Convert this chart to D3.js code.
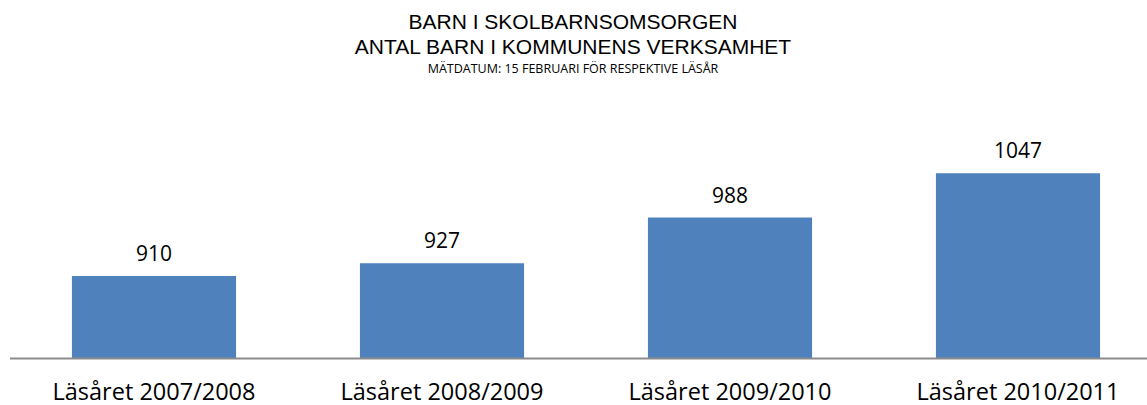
<!DOCTYPE html>
<html>
<head>
<meta charset="utf-8">
<script src="https://cdn.jsdelivr.net/npm/d3@7"></script>
<style>
  body { margin: 0; background: #fff; }
  text { font-family: "Open Sans", sans-serif; fill: #000; }
</style>
</head>
<body>
<script>
const categories = ["Läsåret 2007/2008", "Läsåret 2008/2009", "Läsåret 2009/2010", "Läsåret 2010/2011"];
const values = [910, 927, 988, 1047];
const titleLines = ["BARN I SKOLBARNSOMSORGEN", "ANTAL BARN I KOMMUNENS VERKSAMHET"];
const subtitle = "MÄTDATUM: 15 FEBRUARI FÖR RESPEKTIVE LÄSÅR";

const width = 1147, height = 405;

let svg = d3.select("body").append("svg")
  .attr("width", width)
  .attr("height", height);

const x = d3.scaleBand()
  .domain(categories)
  .range([10, 1162])
  .paddingInner(0.43)
  .paddingOuter(0.215);

const y = d3.scaleLinear()
  .domain([800, 1100])
  .range([358.5, 133.5]);

// titles
svg.selectAll("text.title")
  .data(titleLines)
  .enter()
  .append("text")
  .attr("class", "title")
  .attr("x", 573)
  .attr("y", (d, i) => 29 + i * 25)
  .attr("text-anchor", "middle")
  .style("font-family", "'Liberation Sans', Arial, sans-serif")
  .style("font-size", "21px")
  .text((d) => d);

svg.append("text")
  .attr("x", 573)
  .attr("y", 73)
  .attr("text-anchor", "middle")
  .style("font-size", "12.5px")
  .text(subtitle);

// bars
svg.append("g")
  .selectAll("rect")
  .data(values)
  .enter()
  .append("rect")
  .attr("x", (d, i) => x(categories[i]))
  .attr("y", (d) => y(d))
  .attr("width", x.bandwidth())
  .attr("height", (d) => y.range()[0] - y(d))
  .attr("fill", "#4f81bd");

// value labels
svg.append("g")
  .selectAll("text")
  .data(values)
  .enter()
  .append("text")
  .attr("x", (d, i) => x(categories[i]) + x.bandwidth() / 2)
  .attr("y", (d) => y(d) - 15)
  .attr("text-anchor", "middle")
  .style("font-size", "21px")
  .text((d) => d);

// x axis
const xAxis = svg.append("g")
  .attr("transform", `translate(0,${y.range()[0]})`)
  .call(d3.axisBottom(x).tickSize(0).tickPadding(0));
xAxis.select(".domain").remove();
xAxis.append("line")
  .attr("x1", 10)
  .attr("x2", width)
  .attr("stroke", "#8c8c8c")
  .attr("stroke-width", 2);
xAxis.selectAll(".tick text")
  .attr("dy", null)
  .attr("y", 41)
  .attr("fill", "#000")
  .style("font-family", "'Open Sans', sans-serif")
  .style("font-size", "23.5px");
</script>
</body>
</html>
